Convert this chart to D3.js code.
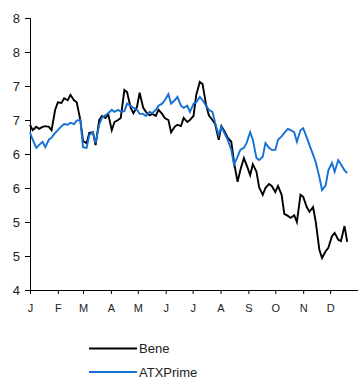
<!DOCTYPE html>
<html>
<head>
<meta charset="utf-8">
<script src="https://cdn.jsdelivr.net/npm/d3@7"></script>
<style>
  html, body { margin: 0; padding: 0; background: #fff; }
  svg { display: block; }
  text { font-family: "Liberation Sans", Arial, sans-serif; fill: #222; }
</style>
</head>
<body>
<svg id="chart" width="358" height="378"></svg>
<script>
// Observation dates (twice a week)
const dates = [
  "2018-01-01","2018-01-04","2018-01-08","2018-01-11","2018-01-15","2018-01-18","2018-01-22","2018-01-25","2018-01-29",
  "2018-02-01","2018-02-05","2018-02-08","2018-02-12","2018-02-15","2018-02-19","2018-02-22","2018-02-26",
  "2018-03-01","2018-03-05","2018-03-08","2018-03-12","2018-03-15","2018-03-19","2018-03-22","2018-03-26","2018-03-29",
  "2018-04-02","2018-04-05","2018-04-09","2018-04-12","2018-04-16","2018-04-19","2018-04-23","2018-04-26","2018-04-30",
  "2018-05-03","2018-05-07","2018-05-10","2018-05-14","2018-05-17","2018-05-21","2018-05-24","2018-05-28","2018-05-31",
  "2018-06-04","2018-06-07","2018-06-11","2018-06-14","2018-06-18","2018-06-21","2018-06-25","2018-06-28",
  "2018-07-02","2018-07-05","2018-07-09","2018-07-12","2018-07-16","2018-07-19","2018-07-23","2018-07-26","2018-07-30",
  "2018-08-02","2018-08-06","2018-08-09","2018-08-13","2018-08-16","2018-08-20","2018-08-23","2018-08-27","2018-08-30",
  "2018-09-03","2018-09-06","2018-09-10","2018-09-13","2018-09-17","2018-09-20","2018-09-24","2018-09-27",
  "2018-10-01","2018-10-04","2018-10-08","2018-10-11","2018-10-15","2018-10-18","2018-10-22","2018-10-25","2018-10-29",
  "2018-11-01","2018-11-05","2018-11-08","2018-11-12","2018-11-15","2018-11-19","2018-11-22","2018-11-26","2018-11-29",
  "2018-12-03","2018-12-06","2018-12-10","2018-12-13","2018-12-17","2018-12-20"
];

const bene = [
  6.43,6.35,6.40,6.37,6.40,6.41,6.40,6.35,6.65,
  6.76,6.75,6.82,6.79,6.87,6.79,6.76,6.50,
  6.19,6.16,6.31,6.32,6.13,6.50,6.56,6.53,6.59,
  6.35,6.47,6.50,6.53,6.94,6.91,6.68,6.60,6.69,
  6.90,6.68,6.62,6.57,6.59,6.56,6.65,6.59,6.53,
  6.50,6.32,6.40,6.43,6.41,6.53,6.47,6.50,
  6.56,6.87,7.06,7.03,6.72,6.57,6.50,6.44,6.21,
  6.41,6.32,6.24,6.18,5.88,5.59,5.76,5.94,5.84,
  5.69,5.85,5.74,5.51,5.40,5.50,5.56,5.53,
  5.44,5.53,5.40,5.12,5.09,5.06,5.10,5.00,5.40,
  5.37,5.22,5.15,5.22,5.00,4.59,4.47,4.57,4.62,
  4.79,4.84,4.74,4.72,4.94,4.71
];

const atxPrime = [
  6.32,6.21,6.09,6.13,6.18,6.10,6.21,6.24,6.31,
  6.35,6.41,6.44,6.43,6.46,6.44,6.49,6.50,
  6.10,6.09,6.28,6.32,6.16,6.43,6.53,6.57,6.60,
  6.65,6.62,6.65,6.62,6.63,6.74,6.71,6.68,6.65,
  6.59,6.59,6.56,6.62,6.60,6.65,6.71,6.74,6.79,
  6.88,6.74,6.79,6.84,6.71,6.68,6.71,6.62,
  6.74,6.76,6.84,6.79,6.71,6.65,6.62,6.46,6.28,
  6.40,6.29,6.21,6.06,5.84,5.96,6.06,6.09,6.16,
  6.32,6.21,5.94,5.91,5.96,6.16,6.09,6.06,
  6.06,6.21,6.26,6.31,6.37,6.35,6.32,6.18,6.35,
  6.38,6.24,6.13,5.99,5.88,5.66,5.47,5.54,5.76,
  5.87,5.74,5.91,5.85,5.76,5.72
];

const yTicks = [4, 4.5, 5, 5.5, 6, 6.5, 7, 7.5, 8];
const monthLabels = ["J","F","M","A","M","J","J","A","S","O","N","D"];

const parse = d3.timeParse("%Y-%m-%d");
const series = [
  { name: "Bene", color: "#000000", values: bene },
  { name: "ATXPrime", color: "#1570d6", values: atxPrime }
];

const svg = d3.select("#chart");
const x = d3.scaleTime()
  .domain([new Date(2018, 0, 1), new Date(2019, 0, 1)])
  .range([30, 358]);
const y = d3.scaleLinear().domain([4, 8]).range([290, 18]);

// y axis: labels rounded to whole numbers
const yAxis = d3.axisLeft(y)
  .tickValues(yTicks)
  .tickSize(5)
  .tickPadding(5)
  .tickFormat(d => String(Math.floor(d + 0.5)));
const gy = svg.append("g").attr("transform", "translate(30,0)").call(yAxis);
gy.selectAll("text").style("font-size", "13px").attr("fill", "#222");
gy.selectAll("line, path").attr("stroke", "#000");

// x axis: month initials at month starts
const months = d3.timeMonth.range(new Date(2018, 0, 1), new Date(2019, 0, 1));
const xAxis = d3.axisBottom(x)
  .tickValues(months)
  .tickSize(4)
  .tickSizeOuter(0)
  .tickPadding(10)
  .tickFormat((d, i) => monthLabels[i]);
const gx = svg.append("g").attr("transform", "translate(0,290)").call(xAxis);
gx.selectAll("text").style("font-size", "11px").attr("fill", "#222");
gx.selectAll("line, path").attr("stroke", "#000");

// series lines
const line = d3.line()
  .x((d, i) => x(parse(dates[i])))
  .y(d => y(d));
series.forEach(s => {
  svg.append("path")
    .datum(s.values)
    .attr("fill", "none")
    .attr("stroke", s.color)
    .attr("stroke-width", 1.9)
    .attr("stroke-linejoin", "miter")
    .attr("d", line);
});

// legend
const legend = svg.append("g");
series.forEach((s, i) => {
  const ly = 348.5 + i * 23.5;
  legend.append("line")
    .attr("x1", 89).attr("x2", 137)
    .attr("y1", ly).attr("y2", ly)
    .attr("stroke", s.color).attr("stroke-width", 2);
  legend.append("text")
    .attr("x", 139).attr("y", ly + 4.5)
    .style("font-size", "13px")
    .text(s.name);
});
</script>
</body>
</html>
